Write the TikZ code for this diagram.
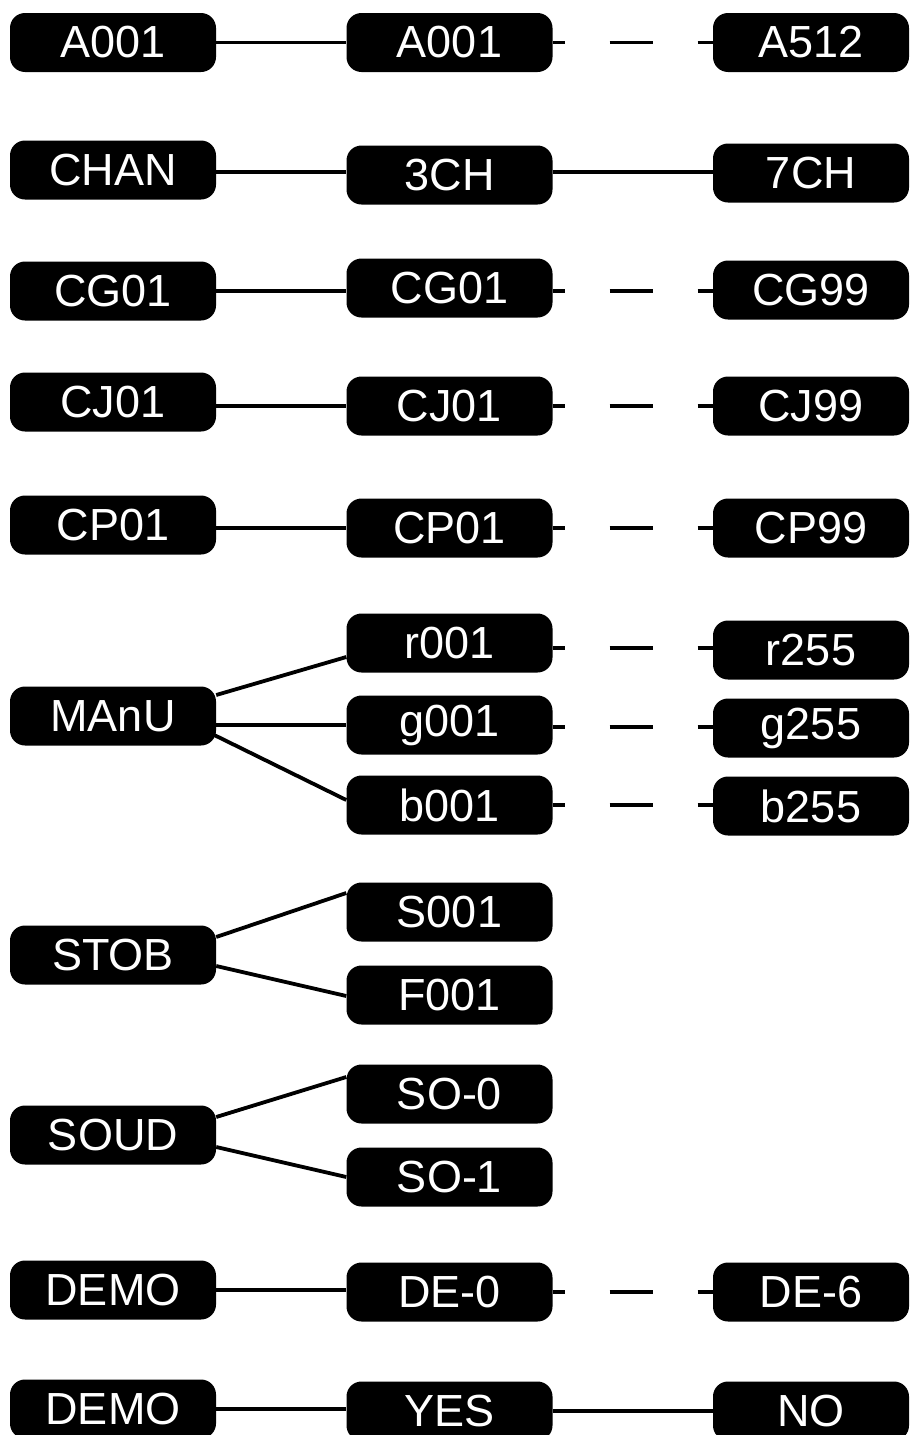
\documentclass[tikz,border=0pt]{standalone}
\usepackage{fontspec}
\setmainfont{Liberation Sans}
\usetikzlibrary{calc}
\tikzset{
  box/.style={fill=black, text=white, rounded corners=15pt, minimum width=206pt,
    minimum height=59pt, inner sep=0pt, font=\fontsize{45}{45}\selectfont},
  rbox/.style={box, minimum width=196pt},
  link/.style={line width=3.8pt},
  dashlink/.style={line width=3.8pt, dash pattern=on 43pt off 45pt, dash phase=31pt}
}
\begin{document}
\begin{tikzpicture}[x=1pt,y=-1pt]
\useasboundingbox (0,0) rectangle (910,1435);
% row 1
\node[box]  (a1) at (113,42.5) {A001};
\node[box]  (a2) at (449.5,42.5) {A001};
\node[rbox] (a3) at (811,42.5) {A512};
\draw[link] (a1.east) -- (a1.east -| a2.west);
\draw[dashlink] (a2.east) -- (a2.east -| a3.west);
% row 2
\node[box]  (c1) at (113,170) {CHAN};
\node[box]  (c2) at (449.5,175) {3CH};
\node[rbox] (c3) at (811,173) {7CH};
\draw[link] ($(c1.east)+(0,2)$) -- ($(c1.east -| c2.west)+(0,2)$);
\draw[link] ($(c2.east)+(0,-3)$) -- ($(c2.east -| c3.west)+(0,-3)$);
% row 3
\node[box]  (g1) at (113,291) {CG01};
\node[box]  (g2) at (449.5,288) {CG01};
\node[rbox] (g3) at (811,290) {CG99};
\draw[link] (g1.east) -- (g1.east -| g2.west);
\draw[dashlink] ($(g2.east)+(0,3)$) -- ($(g2.east -| g3.west)+(0,3)$);
% row 4
\node[box]  (j1) at (113,402) {CJ01};
\node[box]  (j2) at (449.5,406) {CJ01};
\node[rbox] (j3) at (811,406) {CJ99};
\draw[link] ($(j1.east)+(0,4)$) -- ($(j1.east -| j2.west)+(0,4)$);
\draw[dashlink] (j2.east) -- (j2.east -| j3.west);
% row 5
\node[box]  (p1) at (113,525) {CP01};
\node[box]  (p2) at (449.5,528) {CP01};
\node[rbox] (p3) at (811,528) {CP99};
\draw[link] ($(p1.east)+(0,3)$) -- ($(p1.east -| p2.west)+(0,3)$);
\draw[dashlink] (p2.east) -- (p2.east -| p3.west);
% MAnU
\node[box]  (m)  at (113,716) {MAnU};
\node[box]  (r1) at (449.5,643) {r001};
\node[rbox] (r2) at (811,650) {r255};
\node[box]  (gg1) at (449.5,725) {g001};
\node[rbox] (gg2) at (811,728) {g255};
\node[box]  (b1) at (449.5,805) {b001};
\node[rbox] (b2) at (811,806) {b255};
\draw[link] ($(m.east)+(0,-21)$) -- ($(r1.west)+(0,14)$);
\draw[link] (gg1.west -| m.east) -- (gg1.west);
\draw[link] ($(m.east)+(-2,19)$) -- ($(b1.west)+(0,-5)$);
\draw[dashlink] ($(r1.east)+(0,5)$) -- ($(r1.east -| r2.west)+(0,5)$);
\draw[dashlink] ($(gg1.east)+(0,2)$) -- ($(gg1.east -| gg2.west)+(0,2)$);
\draw[dashlink] (b1.east) -- (b1.east -| b2.west);
% STOB
\node[box] (s)  at (113,955) {STOB};
\node[box] (s1) at (449.5,912) {S001};
\node[box] (s2) at (449.5,995) {F001};
\draw[link] ($(s.east)+(0,-18)$) -- ($(s1.west)+(0,-19)$);
\draw[link] ($(s.east)+(0,11)$) -- ($(s2.west)+(0,1)$);
% SOUD
\node[box] (o)  at (113,1135) {SOUD};
\node[box] (o1) at (449.5,1094) {SO-0};
\node[box] (o2) at (449.5,1177) {SO-1};
\draw[link] ($(o.east)+(0,-18)$) -- ($(o1.west)+(0,-17)$);
\draw[link] ($(o.east)+(0,12)$) -- (o2.west);
% DEMO 1
\node[box]  (d1) at (113,1290) {DEMO};
\node[box]  (d2) at (449.5,1292) {DE-0};
\node[rbox] (d3) at (811,1292) {DE-6};
\draw[link] (d1.east) -- (d1.east -| d2.west);
\draw[dashlink] (d2.east) -- (d2.east -| d3.west);
% DEMO 2
\node[box]  (e1) at (113,1409) {DEMO};
\node[box]  (e2) at (449.5,1411) {YES};
\node[rbox] (e3) at (811,1411) {NO};
\draw[link] (e1.east) -- (e1.east -| e2.west);
\draw[link] (e2.east) -- (e2.east -| e3.west);
\end{tikzpicture}
\end{document}
